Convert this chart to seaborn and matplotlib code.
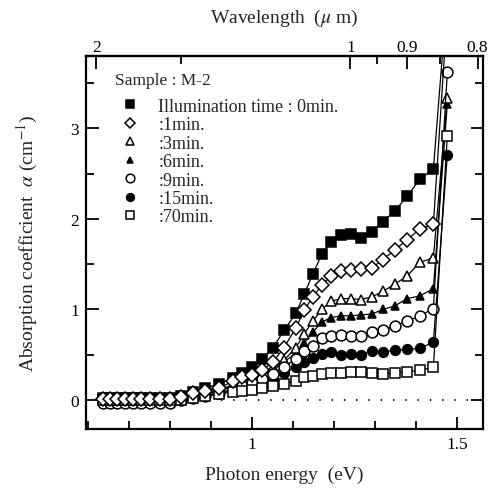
import numpy as np
import pandas as pd
import matplotlib
matplotlib.use("Agg")
import matplotlib.pyplot as plt
import seaborn as sns
from matplotlib.lines import Line2D
from matplotlib.ticker import MultipleLocator, FixedLocator

# ---------------- data ----------------
energy = [0.636, 0.653, 0.670, 0.689, 0.709, 0.729, 0.752, 0.775, 0.800, 0.827,
          0.855, 0.886, 0.919, 0.954, 0.976, 1.000, 1.025, 1.051, 1.078, 1.107,
          1.127, 1.148, 1.170, 1.192, 1.216, 1.240, 1.265, 1.292, 1.319, 1.348,
          1.378, 1.409, 1.442, 1.476]

t0 = [0.02, 0.02, 0.02, 0.02, 0.02, 0.02, 0.02, 0.02, 0.02, 0.05,
      0.09, 0.13, 0.18, 0.24, 0.30, 0.36, 0.45, 0.58, 0.77, 0.96,
      1.17, 1.39, 1.61, 1.75, 1.82, 1.83, 1.79, 1.86, 1.97, 2.09,
      2.25, 2.44, 2.55, 4.50]
t1 = [0.01, 0.01, 0.01, 0.01, 0.01, 0.01, 0.01, 0.01, 0.01, 0.03,
      0.08, 0.10, 0.13, 0.21, 0.25, 0.28, 0.33, 0.42, 0.58, 0.80,
      0.99, 1.14, 1.27, 1.37, 1.42, 1.44, 1.45, 1.46, 1.55, 1.66,
      1.77, 1.89, 1.94, 4.30]
t3 = [0.00, 0.00, 0.00, 0.00, 0.00, 0.00, 0.00, 0.00, 0.00, 0.01,
      0.04, 0.07, 0.11, 0.17, 0.21, 0.24, 0.29, 0.36, 0.44, 0.58,
      0.73, 0.87, 1.00, 1.09, 1.12, 1.12, 1.11, 1.14, 1.20, 1.28,
      1.37, 1.52, 1.57, 3.34]
t6 = [0.00, 0.00, 0.00, 0.00, 0.00, 0.00, 0.00, 0.00, 0.00, 0.01,
      0.03, 0.06, 0.10, 0.15, 0.18, 0.22, 0.27, 0.33, 0.42, 0.52,
      0.63, 0.75, 0.86, 0.91, 0.93, 0.93, 0.94, 0.95, 1.00, 1.04,
      1.12, 1.15, 1.23, 3.27]
t9 = [-0.03, -0.03, -0.03, -0.03, -0.03, -0.03, -0.03, -0.03, -0.03, 0.00,
      0.02, 0.05, 0.08, 0.12, 0.16, 0.19, 0.23, 0.29, 0.37, 0.45,
      0.54, 0.60, 0.69, 0.71, 0.72, 0.71, 0.71, 0.75, 0.77, 0.82,
      0.87, 0.93, 1.01, 3.62]
t15 = [0.00, 0.00, 0.00, 0.00, 0.00, 0.00, 0.00, 0.00, 0.00, 0.00,
       0.02, 0.04, 0.07, 0.11, 0.14, 0.17, 0.20, 0.24, 0.30, 0.36,
       0.42, 0.46, 0.51, 0.53, 0.50, 0.51, 0.50, 0.54, 0.53, 0.55,
       0.56, 0.57, 0.64, 2.71]
t70 = [0.00, 0.00, 0.00, 0.00, 0.00, 0.00, 0.00, 0.00, 0.00, 0.00,
       0.02, 0.04, 0.07, 0.09, 0.10, 0.11, 0.13, 0.15, 0.18, 0.21,
       0.25, 0.27, 0.29, 0.30, 0.30, 0.31, 0.31, 0.30, 0.29, 0.30,
       0.31, 0.33, 0.36, 2.92]

labels = ["Illumination time : 0min.", ":1min.", ":3min.", ":6min.",
          ":9min.", ":15min.", ":70min."]
wl_ticks = [2, 1, 0.9, 0.8]
wl_minor = [1.5, 0.95, 0.85]

# ---------------- style ----------------
sns.set_style("ticks")
plt.rcParams["font.family"] = ["Liberation Serif", "DejaVu Serif"]
plt.rcParams["mathtext.fontset"] = "stix"

fig = plt.figure(figsize=(4.89, 4.89), dpi=100)
ax = fig.add_axes([86 / 489, 1 - 430 / 489, 397 / 489, 373 / 489])

# label, values, marker, face, size, zorder
styles = [
    (labels[0], t0, "s", "black", 6.8, 3),
    (labels[1], t1, "D", "white", 6.8, 9),
    (labels[2], t3, "^", "white", 7.6, 5),
    (labels[3], t6, "^", "black", 6.0, 4),
    (labels[4], t9, "o", "white", 7.8, 7),
    (labels[5], t15, "o", "black", 7.0, 6),
    (labels[6], t70, "s", "white", 7.0, 8),
]

ax.axhline(0, color="black", lw=1.3, ls=(0, (0.8, 6)), zorder=1)

handles = []
for lab, vals, mk, fc, ms, z in styles:
    df = pd.DataFrame({"E": energy, "alpha": vals})
    sns.lineplot(data=df, x="E", y="alpha", ax=ax, color="black", lw=0.9,
                 marker=mk, markersize=ms, markerfacecolor=fc,
                 markeredgecolor="black", markeredgewidth=1.1,
                 sort=False, estimator=None, zorder=z, legend=False)
    handles.append(Line2D([], [], ls="none", marker=mk, markersize=ms * 0.8,
                          markerfacecolor=fc, markeredgecolor="black",
                          markeredgewidth=1.1))

ax.set_xlim(0.595, 1.563)
ax.set_ylim(-0.32, 3.80)

ax.set_xticks([1, 1.5])
ax.set_xticklabels(["1", "1.5"])
ax.xaxis.set_minor_locator(MultipleLocator(0.1))
ax.set_yticks([0, 1, 2, 3])
ax.set_yticklabels(["0", "1", "2", "3"])
ax.yaxis.set_minor_locator(MultipleLocator(0.5))
ax.tick_params(which="both", direction="in", top=False, right=True,
               width=1.3, labelsize=12.5, colors="black")
ax.tick_params(which="major", length=9, pad=5)
ax.tick_params(which="minor", length=6)
for sp in ax.spines.values():
    sp.set_linewidth(1.6)
    sp.set_color("black")

ax.set_xlabel("Photon energy  (eV)", fontsize=14, labelpad=10)
ax.set_ylabel(r"Absorption coefficient  $\alpha$ (cm$^{-1}$)", fontsize=14,
              labelpad=22)


def e2l(e):
    e = np.asarray(e, dtype=float)
    return 1.2398 / np.where(np.abs(e) < 1e-6, 1e-6, e)


secax = ax.secondary_xaxis("top", functions=(e2l, e2l))
secax.xaxis.set_major_locator(FixedLocator(wl_ticks))
secax.set_xticklabels([str(v) for v in wl_ticks])
secax.xaxis.set_minor_locator(FixedLocator(wl_minor))
secax.tick_params(which="both", direction="in", width=1.3, labelsize=12.5,
                  colors="black")
secax.tick_params(which="major", length=9, pad=1)
secax.tick_params(which="minor", length=6)
secax.spines["top"].set_linewidth(1.6)
secax.set_xlabel(r"Wavelength  ($\mu$ m)", fontsize=14, labelpad=12)

leg = ax.legend(handles, labels, title="Sample : M-2", loc="upper left",
                bbox_to_anchor=(0.073, 0.957), frameon=False, fontsize=13,
                title_fontsize=12.5, handlelength=1.65, handletextpad=0.75,
                labelspacing=0.08, borderpad=0, borderaxespad=0)
leg._legend_box.align = "left"
leg._legend_box.sep = 7

fig.savefig("out.png", dpi=100, facecolor="white")
